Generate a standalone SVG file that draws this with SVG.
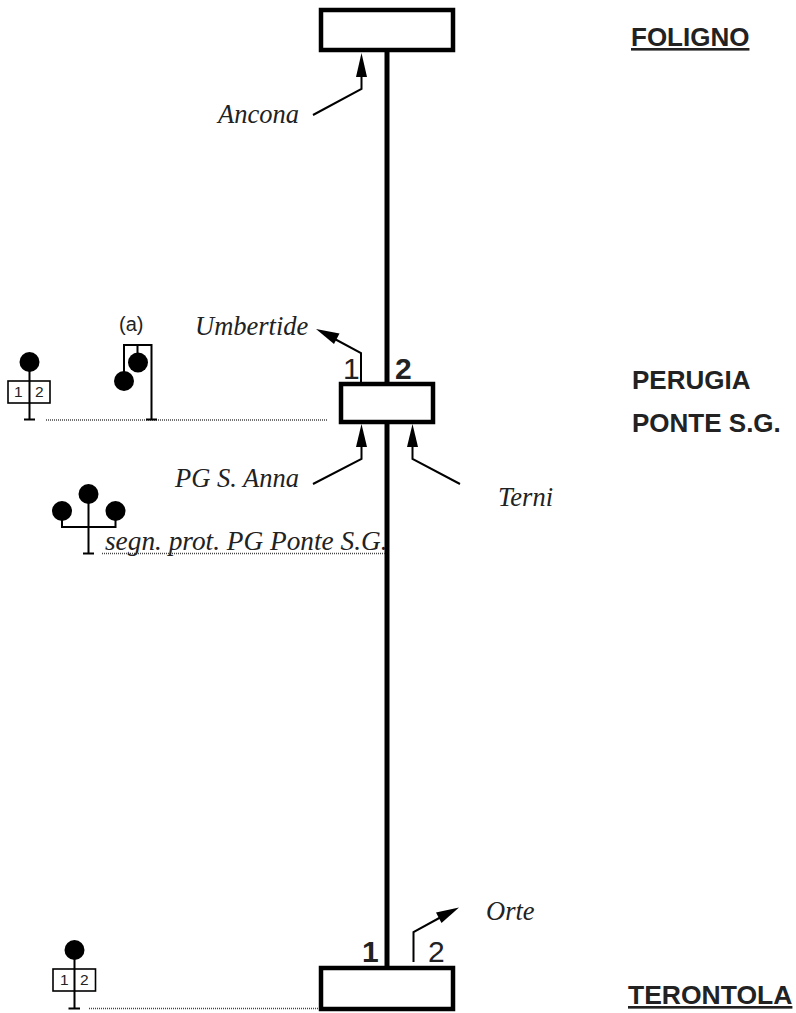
<svg xmlns="http://www.w3.org/2000/svg" width="796" height="1013" viewBox="0 0 796 1013">
<style>
.st{fill:#fff;stroke:#000;stroke-width:4.500}
.tr{fill:none;stroke:#000;stroke-width:5}
.ln{fill:none;stroke:#000;stroke-width:2}
.dot{fill:none;stroke:#444;stroke-width:1.4;stroke-dasharray:1 1}
.sg{fill:none;stroke:#000;stroke-width:2}
.box{fill:#fff;stroke:#000;stroke-width:1.6}
.lamp{fill:#000}
.head{fill:#000}
.it{font-family:"Liberation Serif",serif;font-style:italic;font-size:26.500px;fill:#222}
.nm{font-family:"Liberation Sans",sans-serif;font-weight:bold;font-size:26px;fill:#222}
.tk{font-family:"Liberation Sans",sans-serif;font-size:30px;fill:#222}
.tkb{font-family:"Liberation Sans",sans-serif;font-size:30px;font-weight:bold;fill:#222}
.sm{font-family:"Liberation Sans",sans-serif;font-size:15.500px;fill:#222}
.a{font-family:"Liberation Sans",sans-serif;font-size:20px;fill:#222}
</style>
<rect width="796" height="1013" fill="#fff"/>
<g id="connectors">
<path class="tr" d="M387 52V968"/>
<path class="ln" d="M313 115L361.500 89V70"/><polygon class="head" points="361.500,53 356,77 367,77"/>
<path class="ln" d="M361 382V353L332 337.500"/><polygon class="head" points="316,329 339.500,333.500 334,344"/>
<path class="ln" d="M313 484L361.500 459V440"/><polygon class="head" points="361.500,424 356,447 367,447"/>
<path class="ln" d="M460 484L412.500 459V440"/><polygon class="head" points="412.500,424 407,447 418,447"/>
<path class="ln" d="M413.500 962V932L442 916.500"/><polygon class="head" points="459,907.500 436,912.500 441.500,923"/>
<path class="dot" d="M46 420H328"/>
<path class="dot" d="M102 553.500H385"/>
<path class="dot" d="M89 1008.500H318"/>
</g>
<g id="foligno"><rect class="st" x="321" y="10" width="132" height="40"/><text class="nm" x="631" y="46" text-decoration="underline">FOLIGNO</text></g>
<g id="perugia"><rect class="st" x="341" y="384" width="92" height="38"/><text class="nm" x="632" y="389">PERUGIA</text><text class="nm" x="632" y="432">PONTE S.G.</text>
<text class="tk" x="343" y="379">1</text><text class="tkb" x="395" y="379">2</text></g>
<g id="terontola"><rect class="st" x="321" y="968" width="132" height="41"/><text class="nm" x="628" y="1004" text-decoration="underline" style="font-size:26.500px">TERONTOLA</text>
<text class="tkb" x="362" y="962">1</text><text class="tk" x="428" y="962">2</text></g>
<g id="labels">
<text class="it" x="218" y="123">Ancona</text>
<text class="it" x="195" y="335">Umbertide</text>
<text class="it" x="175" y="487">PG S. Anna</text>
<text class="it" x="498" y="506">Terni</text>
<text class="it" x="105" y="550" style="font-size:27.300px">segn. prot. PG Ponte S.G.</text>
<text class="it" x="486" y="920">Orte</text>
<text class="a" x="119" y="331">(a)</text>
</g>
<g id="signal-perugia-1">
<rect class="box" x="8" y="381" width="42" height="22"/>
<path class="sg" d="M29.500 362V419M24 419.500H35"/><circle class="lamp" cx="29.500" cy="362" r="10"/>
<text class="sm" x="14" y="397">1</text><text class="sm" x="35" y="397">2</text>
</g>
<g id="signal-perugia-a">
<path class="sg" d="M124 380V345H151.500V419M137.500 345V362M146 419.500H157"/>
<circle class="lamp" cx="138" cy="362.500" r="10"/><circle class="lamp" cx="124" cy="381" r="10"/>
</g>
<g id="signal-protection">
<path class="sg" d="M88.500 494V553M62 511V527H115.500V511M83 553.500H94"/>
<circle class="lamp" cx="88.500" cy="494" r="10"/><circle class="lamp" cx="62" cy="511" r="10"/><circle class="lamp" cx="115.500" cy="511" r="10"/>
</g>
<g id="signal-terontola">
<rect class="box" x="53" y="969" width="42.500" height="22"/>
<path class="sg" d="M74.500 950V1008M68.500 1008.500H80"/><circle class="lamp" cx="74.500" cy="950" r="10"/>
<text class="sm" x="60" y="985">1</text><text class="sm" x="80" y="985">2</text>
</g>
</svg>
